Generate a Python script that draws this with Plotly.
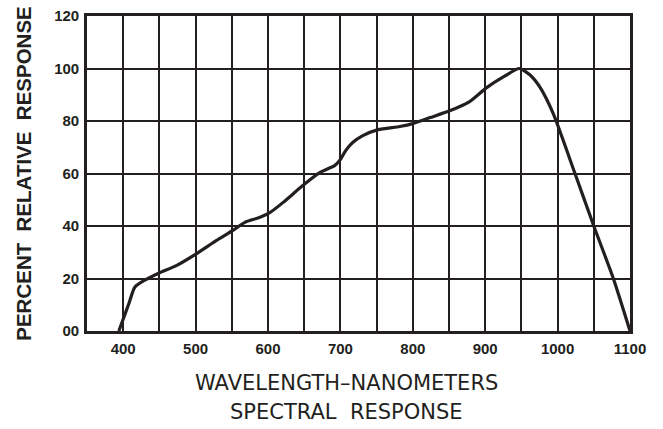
import plotly.graph_objects as go

# Spectral response curve
wavelength_nm = [394, 401, 408, 416, 430, 449, 474, 502, 529, 552, 568, 589, 603, 621, 648, 672, 692, 699, 708, 717, 731, 752, 782, 800, 824, 851, 865, 879, 902, 925, 947, 962, 976, 994, 1024, 1050, 1077, 1100]
percent_response = [0, 5.3, 10.6, 16.7, 19.4, 22, 25, 29.6, 34.5, 38.4, 41.4, 43.3, 45.2, 49, 55.4, 60.4, 63, 65, 69, 71.8, 74.4, 76.7, 77.9, 79, 81.3, 83.9, 85.5, 87.5, 92.7, 96.8, 100, 97.5, 92.7, 82.8, 60, 40, 20, 0]

x_tick_vals = [400, 500, 600, 700, 800, 900, 1000, 1100]
x_tick_text = ["400", "500", "600", "700", "800", "900", "1000", "1100"]
y_tick_vals = [0, 20, 40, 60, 80, 100, 120]
y_tick_text = ["00", "20", "40", "60", "80", "100", "120"]

INK = "#231f20"
TICK_FONT = dict(size=15, family="Liberation Sans, Arial, sans-serif", weight="bold", color=INK)

W, H = 663, 429
plot_left, plot_right, plot_top, plot_bottom = 87, 630, 16, 331

fig = go.Figure()
fig.add_trace(go.Scatter(
    x=wavelength_nm, y=percent_response, mode="lines",
    line=dict(color=INK, width=3.2, shape="spline", smoothing=0.6),
    hoverinfo="x+y", showlegend=False, cliponaxis=False,
))

fig.update_layout(
    width=W, height=H,
    margin=dict(l=plot_left, r=W - plot_right, t=plot_top, b=H - plot_bottom),
    paper_bgcolor="white", plot_bgcolor="white",
    font=dict(family="Liberation Sans, Arial, sans-serif", color=INK),
    xaxis=dict(
        range=[350, 1100], tickvals=x_tick_vals, ticktext=x_tick_text,
        showgrid=True, gridcolor=INK, gridwidth=2.2,
        minor=dict(dtick=50, tick0=350, showgrid=True, gridcolor=INK, gridwidth=2.2),
        showline=True, linecolor=INK, linewidth=2.6, mirror=True,
        ticks="", ticklabelstandoff=2, automargin=False,
        tickfont=TICK_FONT,
        zeroline=False, fixedrange=True,
    ),
    yaxis=dict(
        range=[0, 120], tickvals=y_tick_vals, ticktext=y_tick_text,
        showgrid=True, gridcolor=INK, gridwidth=2.2,
        showline=True, linecolor=INK, linewidth=2.6, mirror=True,
        ticks="", ticklabelstandoff=2, automargin=False,
        tickfont=TICK_FONT,
        title=dict(text="PERCENT  RELATIVE  RESPONSE", standoff=17,
                   font=dict(size=20.5, family="Liberation Sans, Arial, sans-serif", weight="bold", color=INK)),
        zeroline=False, fixedrange=True,
    ),
    annotations=[
        dict(text="WAVELENGTH\u2013NANOMETERS", xref="paper", yref="paper",
             xanchor="center", yanchor="middle",
             showarrow=False, font=dict(size=21, family="DejaVu Sans, sans-serif", color=INK)),
        dict(text="SPECTRAL  RESPONSE", xref="paper", yref="paper",
             xanchor="center", yanchor="middle",
             showarrow=False, font=dict(size=21, family="DejaVu Sans, sans-serif", color=INK)),
    ],
)

# position annotations in page-pixel terms relative to the plot area
plot_h = plot_bottom - plot_top
plot_w = plot_right - plot_left
for ann, py in zip(fig.layout.annotations, [383, 412]):
    ann.y = (plot_bottom - py) / plot_h
    ann.x = (346 - plot_left) / plot_w

# remove the browser's default 8px body margin so the figure sits at the page origin
fig.write_html("out.html", config={"displayModeBar": False},
               post_script="document.body.style.margin='0px';")
